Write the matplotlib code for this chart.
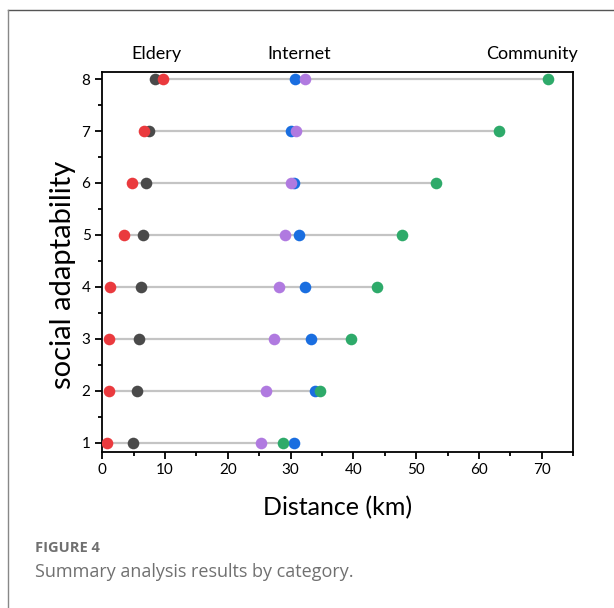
import matplotlib
matplotlib.use("Agg")
import matplotlib.pyplot as plt
from matplotlib.ticker import MultipleLocator
from matplotlib.lines import Line2D

# social adaptability levels (rows)
levels = [1, 2, 3, 4, 5, 6, 7, 8]

# distance values (km) per category
dark = [4.9, 5.5, 5.8, 6.1, 6.5, 6.9, 7.5, 8.4]
red = [0.8, 1.0, 1.1, 1.3, 3.5, 4.8, 6.7, 9.6]
blue = [30.6, 33.8, 33.2, 32.3, 31.3, 30.5, 30.1, 30.7]
purple = [25.3, 26.1, 27.3, 28.2, 29.1, 30.1, 30.9, 32.2]
green = [28.7, 34.6, 39.6, 43.7, 47.7, 53.1, 63.1, 71.0]

top_labels = ["Eldery", "Internet", "Community"]
top_label_x = [8.6, 31.4, 68.4]

plt.rcParams['font.family'] = ['Lato', 'DejaVu Sans']

fig = plt.figure(figsize=(6.14, 6.08), dpi=100)
ax = fig.add_axes([0.1666, 0.2571, 0.7671, 0.624])

# gray connecting line from min to max in each row
for i, lv in enumerate(levels):
    vals = [dark[i], red[i], blue[i], purple[i], green[i]]
    ax.plot([min(vals), max(vals)], [lv, lv], color='#c4c4c4', lw=1.6, zorder=1)

size = 70
ax.scatter(dark, levels, s=size, color='#4a4a4a', zorder=3, linewidths=0)
ax.scatter(red, levels, s=size, color='#ea3a3e', zorder=4, linewidths=0)
ax.scatter(blue, levels, s=size, color='#1a6ee0', zorder=5, linewidths=0)
ax.scatter(purple, levels, s=size, color='#b07ae0', zorder=6, linewidths=0)
ax.scatter(green, levels, s=size, color='#2eaa6a', zorder=7, linewidths=0)

ax.set_xlim(0, 75)
ax.set_ylim(0.83, 8.13)
ax.xaxis.set_major_locator(MultipleLocator(10))
ax.xaxis.set_minor_locator(MultipleLocator(5))
ax.yaxis.set_major_locator(MultipleLocator(1))
ax.yaxis.set_minor_locator(MultipleLocator(0.5))
ax.tick_params(which='both', direction='out', width=1.3, labelsize=11, colors='black')
ax.tick_params(which='major', length=5)
ax.tick_params(which='minor', length=3)
for sp in ax.spines.values():
    sp.set_linewidth(1.3)

ax.set_xlabel("Distance (km)", fontsize=18, labelpad=13)
ax.set_ylabel("social adaptability", fontsize=21)
ax.yaxis.set_label_coords(-0.055, 0.466)

for lab, xv in zip(top_labels, top_label_x):
    ax.text(xv, 8.33, lab, ha='center', va='bottom', fontsize=13)

# caption
fig.text(35 / 614, 1 - 548 / 608, "FIGURE 4", fontsize=10.5, color='#707070',
         fontweight='bold', family=['Open Sans', 'DejaVu Sans'], va='center')
fig.text(35 / 614, 1 - 572 / 608, "Summary analysis results by category.", fontsize=13,
         color='#707070', family=['Open Sans', 'DejaVu Sans'], va='center')

# page frame lines
fig.add_artist(Line2D([8 / 614, 1], [1 - 10 / 608, 1 - 10 / 608], color='#555555', lw=1.0,
                      transform=fig.transFigure))
fig.add_artist(Line2D([8 / 614, 8 / 614], [0, 1 - 10 / 608], color='#888888', lw=1.0,
                      transform=fig.transFigure))

fig.savefig("out.png", dpi=100)
